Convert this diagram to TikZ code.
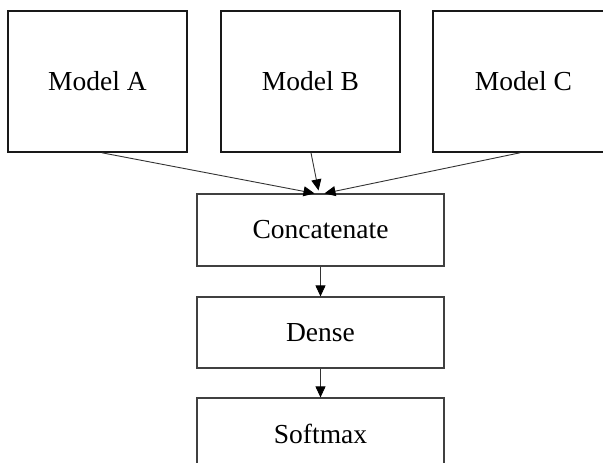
\documentclass[tikz,border=0pt]{standalone}
\usepackage{fontspec}
\setmainfont{Liberation Serif}
\usetikzlibrary{arrows.meta,calc}
\begin{document}
\begin{tikzpicture}[x=1pt,y=1pt,
  modelbox/.style={draw=black!90,line width=1.6pt,minimum width=179pt,minimum height=141pt,inner sep=0pt,font=\fontsize{27.5}{30}\selectfont},
  layerbox/.style={draw=black!75,line width=1.2pt,minimum width=247pt,minimum height=71pt,inner sep=0pt,font=\fontsize{27.5}{30}\selectfont},
  conn/.style={draw=black!80,line width=0.9pt,-{Triangle[length=11pt,width=10pt,color=black]}}]
\useasboundingbox (0,0) rectangle (603,-463);
\node[modelbox] (a) at (97.5,-81.5) {Model A};
\node[modelbox] (b) at (310.5,-81.5) {Model B};
\node[modelbox,minimum width=181pt] (c) at (523.5,-81.5) {Model C};
\node[layerbox,minimum height=72pt] (cat) at (320.5,-230) {Concatenate};
\node[layerbox] (dense) at (320.5,-332.5) {Dense};
\node[layerbox] (soft) at (320.5,-433.5) {Softmax};
\coordinate (ia) at ($(cat.north)+(-6,0)$);
\coordinate (ib) at ($(cat.north)+(-2,3)$);
\coordinate (ic) at ($(cat.north)+(4,0)$);
\coordinate (oa) at ($(a.south)+(4.5,0)$);
\coordinate (ob) at ($(b.south)+(0.5,0)$);
\coordinate (oc) at ($(c.south)+(-3.5,0)$);
\draw[conn] (oa) -- (ia);
\draw[conn] (ob) -- (ib);
\draw[conn] (oc) -- (ic);
\draw[conn] (cat.south) -- (dense.north);
\draw[conn] (dense.south) -- (soft.north);
\end{tikzpicture}
\end{document}
